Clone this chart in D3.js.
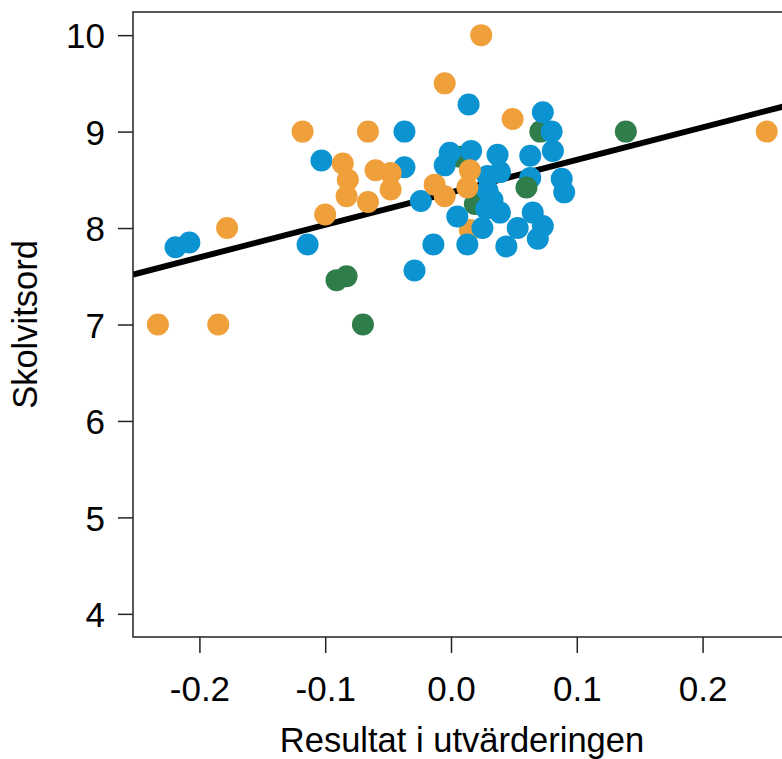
<!DOCTYPE html>
<html>
<head>
<meta charset="utf-8">
<script src="https://cdn.jsdelivr.net/npm/d3@7"></script>
<style>
  html, body { margin: 0; padding: 0; background: #fff; }
  svg { display: block; }
  text { font-family: "Liberation Sans", Arial, sans-serif; fill: #000; }
</style>
</head>
<body>
<svg id="chart" width="782" height="759"></svg>
<script>
// ---- data ----
const groups = ["Grupp A", "Grupp B", "Grupp C"];
const groupColors = ["#f0a03b", "#0b93d2", "#2e7d4a"];

// drawing order follows the order of these arrays
const pointX = [
  -0.091, -0.083, -0.070, 0.071, 0.007, 0.019,
  0.015,
  -0.219, -0.208, -0.114, -0.103, -0.037, -0.037, -0.024, -0.029, -0.014,
  0.014, 0.073, 0.080, 0.081, 0.063, 0.037, -0.001, -0.005, 0.016, 0.039,
  0.063, 0.088, 0.090, 0.029, 0.033, 0.029, 0.005, 0.025, 0.039, 0.053,
  0.065, 0.073, 0.069, 0.013, 0.044, 0.028,
  0.060, 0.139,
  -0.233, -0.185, -0.178, -0.118, -0.100, -0.086, -0.082, -0.083, -0.066,
  -0.066, -0.060, -0.048, -0.048, -0.013, -0.005, -0.005, 0.024, 0.049,
  0.015, 0.013, 0.251
];
const pointY = [
  7.46, 7.50, 7.00, 9.00, 8.74, 8.25,
  7.98,
  7.80, 7.85, 7.83, 8.70, 9.00, 8.63, 8.28, 7.56, 7.83,
  9.28, 9.20, 9.00, 8.80, 8.75, 8.76, 8.78, 8.65, 8.80, 8.58,
  8.52, 8.51, 8.37, 8.39, 8.29, 8.54, 8.12, 8.00, 8.16, 8.00,
  8.16, 8.02, 7.89, 7.83, 7.81, 8.20,
  8.42, 9.00,
  7.00, 7.00, 8.00, 9.00, 8.14, 8.67, 8.50, 8.33, 9.00,
  8.27, 8.60, 8.57, 8.40, 8.45, 8.33, 9.50, 10.00, 9.13,
  8.60, 8.42, 9.00
];
const pointGroup = [
  "Grupp C", "Grupp C", "Grupp C", "Grupp C", "Grupp C", "Grupp C",
  "Grupp A",
  "Grupp B", "Grupp B", "Grupp B", "Grupp B", "Grupp B", "Grupp B", "Grupp B", "Grupp B", "Grupp B",
  "Grupp B", "Grupp B", "Grupp B", "Grupp B", "Grupp B", "Grupp B", "Grupp B", "Grupp B", "Grupp B", "Grupp B",
  "Grupp B", "Grupp B", "Grupp B", "Grupp B", "Grupp B", "Grupp B", "Grupp B", "Grupp B", "Grupp B", "Grupp B",
  "Grupp B", "Grupp B", "Grupp B", "Grupp B", "Grupp B", "Grupp B",
  "Grupp C", "Grupp C",
  "Grupp A", "Grupp A", "Grupp A", "Grupp A", "Grupp A", "Grupp A", "Grupp A", "Grupp A", "Grupp A",
  "Grupp A", "Grupp A", "Grupp A", "Grupp A", "Grupp A", "Grupp A", "Grupp A", "Grupp A", "Grupp A",
  "Grupp A", "Grupp A", "Grupp A"
];

// regression line: y = intercept + slope * x
const regIntercept = 8.37;
const regSlope = 3.37;

const xTicks = [-0.2, -0.1, 0.0, 0.1, 0.2];
const yTicks = [4, 5, 6, 7, 8, 9, 10];
const xTitle = "Resultat i utvärderingen";
const yTitle = "Skolvitsord";

// ---- layout ----
const plotL = 133, plotR = 791, plotT = 12, plotB = 637;
const svg = d3.select("#chart");

const x = d3.scaleLinear().domain([-0.2528, 0.2703]).range([plotL, plotR]);
const y = d3.scaleLinear().domain([3.76, 10.24]).range([plotB, plotT]);
const color = d3.scaleOrdinal().domain(groups).range(groupColors);

svg.append("defs").append("clipPath").attr("id", "plotclip")
  .append("rect").attr("x", plotL).attr("y", plotT)
  .attr("width", plotR - plotL).attr("height", plotB - plotT);

// regression line
const xd = x.domain();
svg.append("line")
  .attr("clip-path", "url(#plotclip)")
  .attr("x1", x(xd[0])).attr("y1", y(regIntercept + regSlope * xd[0]))
  .attr("x2", x(xd[1])).attr("y2", y(regIntercept + regSlope * xd[1]))
  .attr("stroke", "#000").attr("stroke-width", 6);

// points
const pts = pointX.map((v, i) => ({ x: v, y: pointY[i], g: pointGroup[i] }));
svg.append("g").attr("clip-path", "url(#plotclip)")
  .selectAll("circle").data(pts).join("circle")
  .attr("cx", d => x(d.x)).attr("cy", d => y(d.y))
  .attr("r", 11).attr("fill", d => color(d.g));

// frame
svg.append("rect").attr("x", plotL).attr("y", plotT)
  .attr("width", plotR - plotL).attr("height", plotB - plotT)
  .attr("fill", "none").attr("stroke", "#222").attr("stroke-width", 1.5);

// axes
const fmt = d => d3.format(".1f")(d).replace("\u2212", "-");
const xAxis = d3.axisBottom(x).tickValues(xTicks).tickFormat(fmt)
  .tickSize(16).tickPadding(10).tickSizeOuter(0);
const gx = svg.append("g").attr("transform", `translate(0,${plotB})`).call(xAxis);
gx.select(".domain").remove();
gx.selectAll(".tick line").attr("stroke", "#222").attr("stroke-width", 1.5);
gx.selectAll(".tick text").attr("font-size", 35)
  .attr("font-family", "Liberation Sans, Arial, sans-serif")
  .attr("dy", null).attr("y", 64);

const yAxis = d3.axisLeft(y).tickValues(yTicks).tickFormat(d3.format("d"))
  .tickSize(15).tickPadding(13).tickSizeOuter(0);
const gy = svg.append("g").attr("transform", `translate(${plotL},0)`).call(yAxis);
gy.select(".domain").remove();
gy.selectAll(".tick line").attr("stroke", "#222").attr("stroke-width", 1.5);
gy.selectAll(".tick text").attr("font-size", 35)
  .attr("font-family", "Liberation Sans, Arial, sans-serif")
  .attr("dy", "0.36em");

// titles
svg.append("text").attr("x", (plotL + plotR) / 2).attr("y", 752)
  .attr("text-anchor", "middle").attr("font-size", 34.5).text(xTitle);
svg.append("text").attr("transform", `translate(37,${(plotT + plotB) / 2}) rotate(-90)`)
  .attr("text-anchor", "middle").attr("font-size", 34.5).text(yTitle);
</script>
</body>
</html>
